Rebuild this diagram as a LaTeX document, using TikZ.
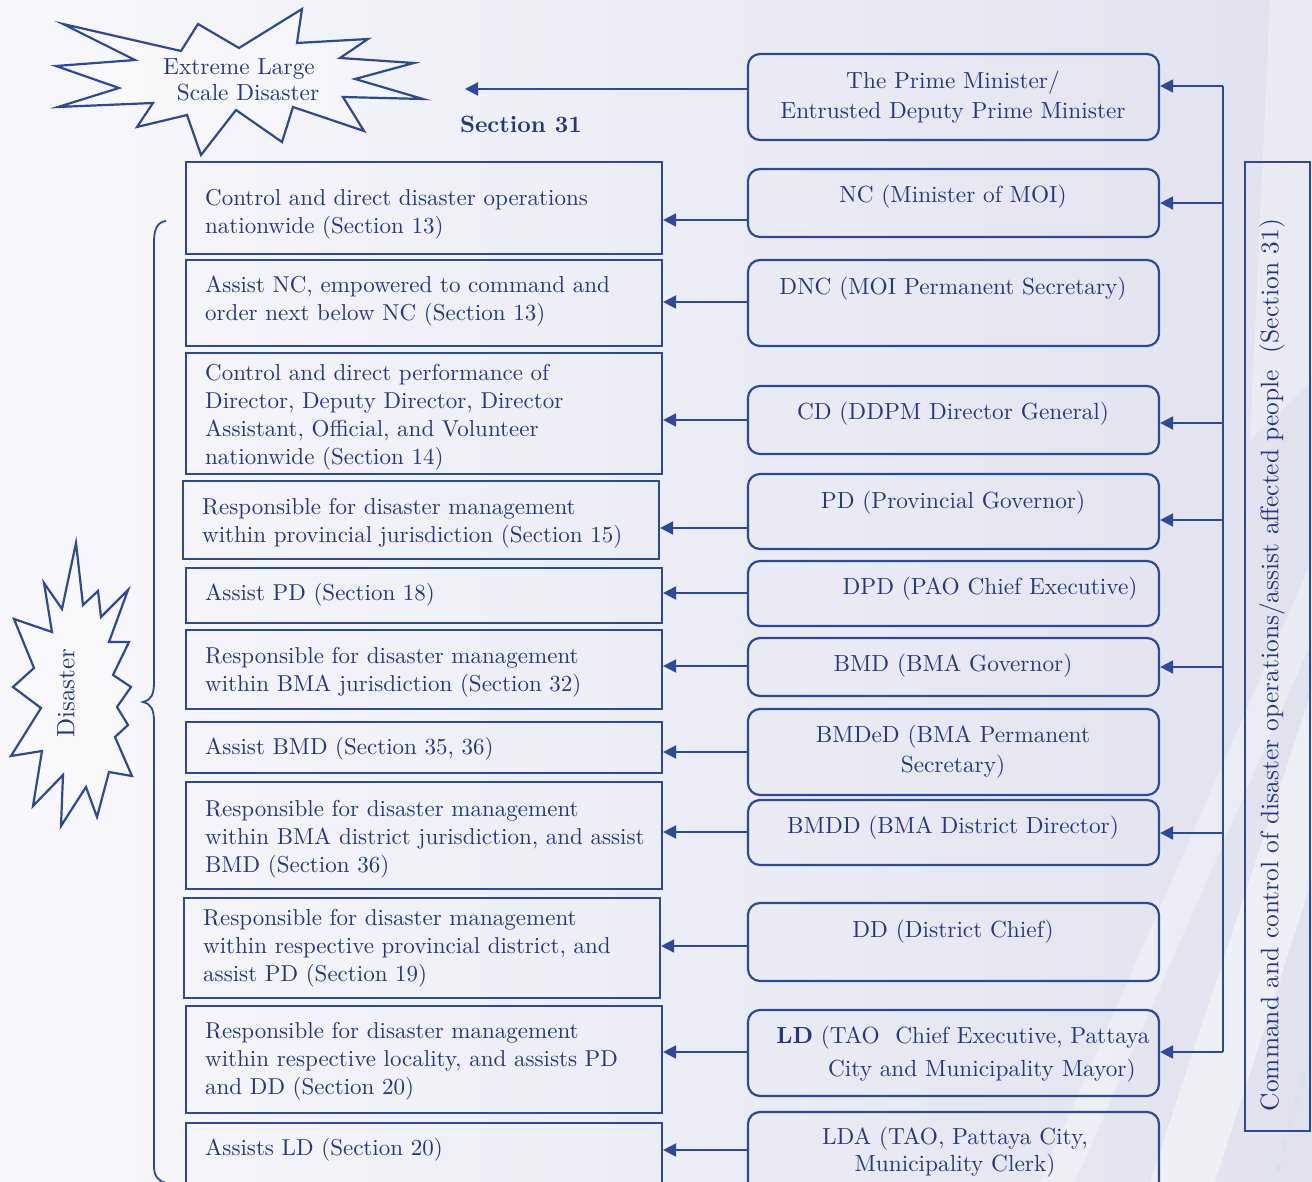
\documentclass[tikz,border=0pt]{standalone}
\usepackage{fontspec}
\setmainfont{lmroman10-regular.otf}[BoldFont=lmroman10-bold.otf]
\usetikzlibrary{arrows.meta}
\definecolor{ink}{HTML}{2C4A9A}
\definecolor{txt}{HTML}{223887}
\definecolor{bgL}{HTML}{F8F8FC}
\definecolor{bgR}{HTML}{E1E2EE}
\begin{document}
\begin{tikzpicture}[x=1pt,y=-1pt,
  lbox/.style={draw=ink, line width=2.2pt, minimum width=476pt, inner sep=0pt},
  rbox/.style={draw=ink, line width=2.2pt, rounded corners=12pt, minimum width=411pt, inner sep=0pt},
  ltxt/.style={text=txt, font=\fontsize{23}{28}\selectfont, align=left, anchor=west, inner sep=0pt},
  rtxt/.style={text=txt, font=\fontsize{23.3}{30}\selectfont, align=center, inner sep=0pt},
  arr/.style={draw=ink, line width=2pt, -{Triangle[length=13pt,width=13pt]}},
  wire/.style={draw=ink, line width=2pt},
  burst/.style={draw=ink, line width=2.2pt, line join=miter, fill=white, fill opacity=0.35, draw opacity=1},
]
% canvas and background
\useasboundingbox (0,0) rectangle (1312,1182);
\clip (0,0) rectangle (1312,1182);
\shade[left color=bgL, right color=bgR] (0,0) rectangle (1312,1182);
\fill[white, opacity=0.45] (1150,1182) -- (1215,1182) -- (1312,880) -- (1312,690) -- cycle;
\fill[white, opacity=0.35] (1040,1182) -- (1075,1182) -- (1312,640) -- (1312,560) -- cycle;
\fill[white, opacity=0.30] (1270,0) -- (1312,0) -- (1312,380) -- (1250,440) -- cycle;
\foreach \k in {0,1,2,3,4}{
  \fill[ink!18, opacity=0.6] ({1276+6*\k},{1172-22*\k}) rectangle ++(5,-9);
}

% bursts
\path[burst] (63,24) -- (181,51) -- (198,24) -- (239,48) -- (302,9) -- (297,43)
  -- (368,39) -- (340,58) -- (414,63) -- (355,79) -- (423,99) -- (343,97)
  -- (364,131) -- (293,107) -- (282,142) -- (236,110) -- (201,155) -- (187,115)
  -- (137,127) -- (153,103) -- (58,107) -- (119,88) -- (56,66) -- (135,60) -- cycle;
\node[rtxt, font=\fontsize{23.3}{26}\selectfont] (xl) at (239,80) {Extreme Large\\\hspace*{18pt}Scale Disaster};
\coordinate (xlr) at (465,89);

\path[burst] (76,543) -- (83,605) -- (98,591) -- (101,617) -- (128,590) -- (109,642)
  -- (129,642) -- (113,675) -- (131,687) -- (117,707) -- (128,725) -- (115,737)
  -- (132,776) -- (109,772) -- (97,817) -- (86,787) -- (61,826) -- (63,775)
  -- (33,806) -- (42,751) -- (11,756) -- (41,708) -- (13,687) -- (34,668)
  -- (14,619) -- (52,632) -- (44,583) -- (62,609) -- cycle;
\node[rtxt, rotate=90, font=\fontsize{25}{30}\selectfont] (dis) at (66,693) {Disaster};

% brace grouping the duty boxes
\draw[ink, line width=1.8pt] (166,221) .. controls (158,222) and (154,228) .. (154,242)
  -- (154,682) .. controls (154,695) and (151,700) .. (143,702)
  .. controls (151,704) and (154,709) .. (154,722)
  -- (154,1166) .. controls (154,1176) and (158,1181) .. (166,1183);

\node[text=txt, font=\bfseries\fontsize{23.5}{28}\selectfont, inner sep=0pt] (s31) at (521,124) {Section 31};

% duty boxes
\node[lbox, minimum height=92pt]  (l1)  at (424,208)    {};
\node[lbox, minimum height=86pt]  (l2)  at (424,303)    {};
\node[lbox, minimum height=121pt] (l3)  at (424,413.5)  {};
\node[lbox, minimum height=78pt]  (l4)  at (421,520)    {};
\node[lbox, minimum height=55pt]  (l5)  at (424,595.5)  {};
\node[lbox, minimum height=79pt]  (l6)  at (424,669.5)  {};
\node[lbox, minimum height=51pt]  (l7)  at (424,747.5)  {};
\node[lbox, minimum height=107pt] (l8)  at (424,835.5)  {};
\node[lbox, minimum height=100pt] (l9)  at (422,948)    {};
\node[lbox, minimum height=107pt] (l10) at (424,1059.5) {};
\node[lbox, minimum height=90pt]  (l11) at (424,1168)   {};

\node[ltxt] (l1t)  at (205,214)  {Control and direct disaster operations\\nationwide (Section 13)};
\node[ltxt] (l2t)  at (205,301)  {Assist NC, empowered to command and\\order next below NC (Section 13)};
\node[ltxt] (l3t)  at (205,417)  {Control and direct performance of\\Director, Deputy Director, Director\\Assistant, Official, and Volunteer\\nationwide (Section 14)};
\node[ltxt] (l4t)  at (202,523)  {Responsible for disaster management\\within provincial jurisdiction (Section 15)};
\node[ltxt] (l5t)  at (205,595)  {Assist PD (Section 18)};
\node[ltxt] (l6t)  at (205,672)  {Responsible for disaster management\\within BMA jurisdiction (Section 32)};
\node[ltxt] (l7t)  at (205,749)  {Assist BMD (Section 35, 36)};
\node[ltxt] (l8t)  at (205,839)  {Responsible for disaster management\\within BMA district jurisdiction, and assist\\BMD (Section 36)};
\node[ltxt] (l9t)  at (203,948)  {Responsible for disaster management\\within respective provincial district, and\\assist PD (Section 19)};
\node[ltxt] (l10t) at (205,1061) {Responsible for disaster management\\within respective locality, and assists PD\\and DD~(Section 20)};
\node[ltxt] (l11t) at (205,1150) {Assists LD~(Section 20)};

% authority boxes
\node[rbox, minimum height=86pt] (r0)  at (953.5,97)   {};
\node[rbox, minimum height=68pt] (r1)  at (953.5,203)  {};
\node[rbox, minimum height=86pt] (r2)  at (953.5,303)  {};
\node[rbox, minimum height=68pt] (r3)  at (953.5,420)  {};
\node[rbox, minimum height=75pt] (r4)  at (953.5,511.5){};
\node[rbox, minimum height=65pt] (r5)  at (953.5,593.5){};
\node[rbox, minimum height=58pt] (r6)  at (953.5,667)  {};
\node[rbox, minimum height=86pt] (r7)  at (953.5,752)  {};
\node[rbox, minimum height=65pt] (r8)  at (953.5,832.5){};
\node[rbox, minimum height=78pt] (r9)  at (953.5,942)  {};
\node[rbox, minimum height=86pt] (r10) at (953.5,1053) {};
\node[rbox, minimum height=90pt] (r11) at (953.5,1157) {};

\node[rtxt] (r0t)  at (953,97)   {The Prime Minister/\\Entrusted Deputy Prime Minister};
\node[rtxt] (r1t)  at (953,197)  {NC (Minister of MOI)};
\node[rtxt] (r2t)  at (953,289)  {DNC (MOI Permanent Secretary)};
\node[rtxt] (r3t)  at (953,414)  {CD (DDPM Director General)};
\node[rtxt] (r4t)  at (953,503)  {PD (Provincial Governor)};
\node[rtxt] (r5t)  at (990,589)  {DPD (PAO Chief Executive)};
\node[rtxt] (r6t)  at (953,666)  {BMD (BMA Governor)};
\node[rtxt] (r7t)  at (953,752)  {BMDeD (BMA Permanent\\Secretary)};
\node[rtxt] (r8t)  at (953,828)  {BMDD (BMA District Director)};
\node[rtxt] (r9t)  at (953,932)  {DD (District Chief)};
\node[rtxt, align=right, font=\fontsize{23.3}{33}\selectfont] (r10t) at (963,1054) {\textbf{LD} (TAO~~Chief Executive, Pattaya\\City and Municipality Mayor)\hspace*{14pt}};
\node[rtxt, font=\fontsize{23.3}{27}\selectfont] (r11t) at (955,1152) {LDA (TAO, Pattaya City,\\Municipality Clerk)};

% overall command box
\node[draw=ink, line width=2.2pt, minimum width=65pt, minimum height=969pt, inner sep=0pt] (cmd) at (1277.5,646.5) {};
\node[rtxt, rotate=90, font=\fontsize{25.4}{30}\selectfont] (cmdt) at (1272,665) {Command and control of disaster operations/assist affected people~~(Section 31)};

% Prime Minister declares the extreme large scale disaster
\draw[arr] (r0.west |- 0,89) -- (xlr);

% authority -> duty
\draw[arr] (r1.west  |- 0,220)  -- (l1.east  |- 0,220);
\draw[arr] (r2.west  |- 0,302)  -- (l2.east  |- 0,302);
\draw[arr] (r3.west  |- 0,420)  -- (l3.east  |- 0,420);
\draw[arr] (r4.west  |- 0,528)  -- (l4.east  |- 0,528);
\draw[arr] (r5.west  |- 0,593)  -- (l5.east  |- 0,593);
\draw[arr] (r6.west  |- 0,666)  -- (l6.east  |- 0,666);
\draw[arr] (r7.west  |- 0,752)  -- (l7.east  |- 0,752);
\draw[arr] (r8.west  |- 0,832)  -- (l8.east  |- 0,832);
\draw[arr] (r9.west  |- 0,946)  -- (l9.east  |- 0,946);
\draw[arr] (r10.west |- 0,1052) -- (l10.east |- 0,1052);
\draw[arr] (r11.west |- 0,1150) -- (l11.east |- 0,1150);

% command bus on the right
\coordinate (busT) at (1223,86);
\coordinate (busB) at (1223,1052);
\draw[wire] (busT) -- (busB);
\foreach \n/\yy in {r0/86, r1/203, r3/423, r4/520, r6/667, r8/833, r10/1052}{
  \draw[arr] (busT |- 0,\yy) -- (\n.east |- 0,\yy);
}
\end{tikzpicture}
\end{document}
